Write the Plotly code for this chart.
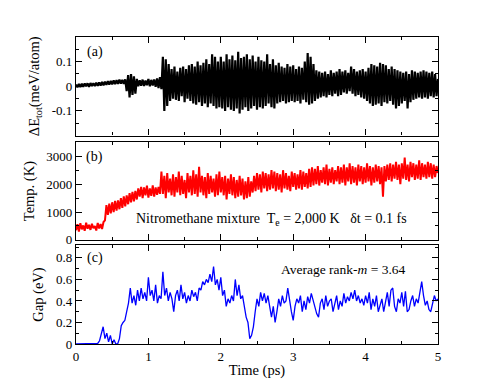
"""Nitromethane mixture MD run: energy drift, temperature and gap vs time."""

import numpy as np
import plotly.graph_objects as go
from plotly.subplots import make_subplots

FONT = "Liberation Serif, DejaVu Serif, serif"

# (a) total energy deviation, meV/atom, sampled every 0.02 ps
energy_dev = [
    0.007, -0.004, 0.009, -0.003, 0.010, -0.002, 0.011, 0.000, 0.012, -0.002,
    0.013, 0.001, 0.012, 0.001, 0.014,
    0.002, 0.016, 0.003, 0.018, 0.004, 0.019, 0.006, 0.021, 0.007, 0.022,
    0.008, 0.024, 0.009, 0.025, 0.010, 0.027, 0.011, 0.026, 0.010, 0.028,
    -0.02, 0.045, -0.045, 0.05, -0.035, 0.04, -0.03, 0.03,
    0.000, 0.024, 0.002, 0.027, 0.001, 0.023, 0.004, 0.030, 0.000, 0.026,
    0.003, 0.028, -0.002, 0.032, -0.007, 0.037, -0.012,
    0.12, -0.1, 0.11, -0.08, 0.09,
    -0.06, 0.07, -0.05, 0.08, -0.055, 0.06, -0.06, 0.075, -0.04, 0.08,
    -0.065, 0.07, -0.05, 0.085, -0.06,
    0.09, -0.07, 0.08, -0.075, 0.1, -0.065, 0.085, -0.08, 0.095, -0.07,
    0.11, -0.085, 0.09, -0.07, 0.13, -0.08, 0.12, -0.09, 0.1, -0.085,
    0.12, -0.09, 0.1, -0.1, 0.13, -0.085, 0.11, -0.095, 0.125, -0.1,
    0.105, -0.09, 0.14, -0.11, 0.115, -0.095, 0.12, -0.085, 0.13, -0.1,
    0.11, -0.09, 0.125, -0.08, 0.1, -0.095, 0.12, -0.085, 0.105, -0.09,
    0.1, -0.08, 0.13, -0.07, 0.09, -0.085, 0.11, -0.09, 0.085, -0.07,
    0.095, -0.065, 0.08, -0.06, 0.075, -0.07, 0.09, -0.065, 0.08, -0.06,
    0.085, -0.065, 0.07, -0.06, 0.08, -0.07, 0.075, -0.055, 0.1, -0.065,
    0.135, -0.075, 0.12, -0.07, 0.09, -0.06, 0.065, -0.05, 0.06, -0.045,
    0.055, -0.04, 0.06, -0.045, 0.05, -0.035, 0.065, -0.04, 0.055, -0.03,
    0.06, -0.04, 0.07, -0.035, 0.06, -0.025, 0.065, -0.03, 0.055, -0.02,
    0.08, -0.03, 0.07, -0.04, 0.06, -0.035, 0.065, -0.045, 0.07, -0.05,
    0.06, -0.06, 0.075, -0.07, 0.09, -0.08, 0.085, -0.075, 0.08, -0.07,
    0.095, -0.08, 0.09, -0.065, 0.085, -0.07, 0.07, -0.06, 0.08, -0.075,
    0.07, -0.09, 0.065, -0.08, 0.06,
    -0.07, 0.055, -0.06, 0.06, -0.09, 0.05, -0.065, 0.065, -0.055, 0.06,
    -0.05, 0.055, -0.045, 0.06, -0.05, 0.065, -0.045, 0.06, -0.05, 0.055,
    -0.04, 0.06, -0.045, 0.05, -0.04, 0.03,
]

# (b) ionic temperature, K, sampled every 0.02 ps
temperature = [
    350, 560, 300, 600, 380, 520, 330, 620, 400, 540,
    360, 580, 420, 500, 340, 610, 410, 570, 390, 640,
    700, 1250, 900,
    1300, 950, 1350, 1000, 1400, 1050, 1420, 1100, 1500, 1150,
    1560, 1200, 1600, 1280, 1680, 1350, 1720, 1380, 1760,
    1450, 1850, 1550, 1900, 1500, 1880, 1600, 1950, 1520, 1850,
    1580, 1960, 1550, 1880, 1620, 1900, 1650,
    2450, 1650, 2300, 1500, 2400, 1700, 2200, 1600, 2350, 1550,
    2250, 1700, 2450, 1600, 2300, 1650, 2150, 1500, 2400, 1700,
    2300, 1600, 2500, 1650, 2350, 1550, 2620, 1700, 2300, 1600,
    2250, 1500, 2400, 1650, 2300, 1700, 2200, 1550, 2350, 1600,
    2450, 1700, 2250, 1600, 2300, 1450, 2200, 1650, 2350, 1600,
    2250, 1500, 2150, 1550, 2300, 1600, 2200, 1450, 2100, 1500,
    2250, 1550, 2100,
    1700, 2300, 1750, 2400, 1800, 2350, 1700, 2450, 1850, 2400,
    1750, 2350, 1800, 2500, 1850,
    2450, 1750, 2400, 1800, 2350, 1700, 2500, 1850, 2400, 1800,
    2300, 1750, 2450, 1900, 2400, 1800, 2350, 1850, 2500, 1800,
    2450, 1900, 2400, 1850, 2550, 1900,
    2600, 1950, 2550, 2000, 2650, 1950, 2500, 2050, 2600, 2000,
    2700, 1950, 2550, 2050, 2600, 2000, 2500, 2100,
    2650, 2000, 2600, 2050, 2700, 1950, 2600, 2100, 2750, 2000,
    2650, 2050, 2600, 1950, 2700, 2100, 2650, 2000, 2600, 2050,
    2750, 2100, 2650, 1950, 2600, 2050, 2700, 2100, 2650, 2000,
    2600, 1550, 2650, 2100, 2700,
    2150, 2750, 2100, 2700, 2200, 2800, 2150, 2700, 2000, 2750,
    2200, 2950, 2150, 2700, 2100, 2800, 2250, 2750, 2150, 2700,
    2200, 2850, 2150, 2750, 2250, 2700, 2200, 2800, 2250, 2750,
    2200, 2700, 2250, 2650, 2400,
]

# (c) electronic gap, eV, sampled every 0.025 ps
gap_ev = [
    0.00, 0.00, 0.005, 0.005, 0.005, 0.005, 0.005, 0.005, 0.004, 0.003,
    0.003, 0.003, 0.005, 0.03, 0.09, 0.16, 0.05, 0.10, 0.02, 0.08,
    0.0, 0.04, 0.0, 0.0, 0.05, 0.17, 0.20, 0.22, 0.30, 0.38,
    0.52, 0.38, 0.45, 0.36, 0.50, 0.40, 0.52, 0.42, 0.48, 0.40,
    0.62, 0.45, 0.50, 0.40, 0.55, 0.38, 0.45, 0.42, 0.67, 0.45,
    0.52, 0.40, 0.48, 0.42, 0.30, 0.45, 0.50, 0.40, 0.55, 0.42,
    0.48, 0.38, 0.45, 0.40, 0.50, 0.44, 0.48, 0.40, 0.52, 0.50,
    0.58, 0.55, 0.60, 0.57, 0.65, 0.58, 0.72, 0.55, 0.60, 0.50,
    0.62, 0.45, 0.50, 0.35, 0.42, 0.38, 0.45, 0.40, 0.60, 0.45,
    0.55, 0.42, 0.45, 0.35, 0.25, 0.20, 0.05, 0.08, 0.16, 0.30,
    0.42, 0.35, 0.48, 0.40, 0.47, 0.38, 0.45, 0.35, 0.25, 0.35,
    0.20, 0.30, 0.42, 0.35, 0.45, 0.38, 0.40, 0.52, 0.40, 0.30,
    0.22, 0.35, 0.42, 0.38, 0.45, 0.30, 0.40, 0.32, 0.44, 0.38,
    0.47, 0.40, 0.35, 0.28, 0.25, 0.38, 0.42, 0.32, 0.45, 0.35,
    0.40, 0.42, 0.30, 0.38, 0.45, 0.32, 0.40, 0.35, 0.47, 0.38,
    0.44, 0.40, 0.48, 0.42, 0.50, 0.40, 0.45, 0.38, 0.42, 0.36,
    0.45, 0.38, 0.48, 0.32, 0.42, 0.35, 0.45, 0.30, 0.35, 0.42,
    0.30, 0.40, 0.48, 0.35, 0.50, 0.52, 0.35, 0.30, 0.42, 0.38,
    0.48, 0.35, 0.49, 0.30, 0.32, 0.40, 0.45, 0.35, 0.42, 0.38,
    0.50, 0.58, 0.45, 0.36, 0.40, 0.32, 0.30, 0.38, 0.45, 0.40,
    0.42,
]

T_END = 5.0  # ps


def time_axis(values):
    """Uniform time grid covering the run for a sampled series."""
    return np.linspace(0.0, T_END, len(values))


def axis_style(dtick, minor_dtick, rng, show_labels=True):
    return dict(
        range=rng,
        showline=True,
        linecolor="black",
        linewidth=1.3,
        mirror="allticks",
        ticks="inside",
        ticklen=6,
        tickwidth=1.1,
        tickcolor="black",
        dtick=dtick,
        tick0=0,
        minor=dict(ticks="inside", ticklen=3, tickwidth=1, dtick=minor_dtick,
                   tickcolor="black", tick0=0),
        showgrid=False,
        zeroline=False,
        automargin=False,
        showticklabels=show_labels,
        tickfont=dict(family=FONT, size=13, color="black"),
        title_font=dict(family=FONT, size=14.5, color="black"),
    )


def panel_note(fig, text, xref, yref, x, y, size=14):
    fig.add_annotation(text=text, xref=xref, yref=yref, x=x, y=y,
                       xanchor="center", yanchor="middle", showarrow=False,
                       font=dict(family=FONT, size=size, color="black"))


fig = make_subplots(rows=3, cols=1, shared_xaxes=True)

fig.add_trace(go.Scatter(x=time_axis(energy_dev), y=energy_dev, mode="lines",
                         line=dict(color="black", width=2.2)), row=1, col=1)
fig.add_trace(go.Scatter(x=time_axis(temperature), y=temperature, mode="lines",
                         line=dict(color="#ff0000", width=2.0)), row=2, col=1)
fig.add_trace(go.Scatter(x=time_axis(gap_ev), y=gap_ev, mode="lines",
                         line=dict(color="#0000ff", width=1.3)), row=3, col=1)

# the page body adds an 8px offset, so margins are shifted to compensate
fig.update_layout(
    width=495,
    height=383,
    margin=dict(l=68, r=65, t=29, b=47),
    plot_bgcolor="white",
    paper_bgcolor="white",
    showlegend=False,
    font=dict(family=FONT, size=14, color="black"),
    xaxis=axis_style(1, 0.5, [0, 5], show_labels=False),
    xaxis2=axis_style(1, 0.5, [0, 5], show_labels=False),
    xaxis3=axis_style(1, 0.5, [0, 5]),
    yaxis=axis_style(0.1, 0.05, [-0.2, 0.2]),
    yaxis2=axis_style(1000, 500, [0, 3500]),
    yaxis3=axis_style(0.2, 0.1, [0, 0.92]),
)
fig.update_layout(
    yaxis=dict(domain=[0.679, 1.0], title_text="ΔE<sub>tot</sub>(meV/atom)",
               title_standoff=8,
               tickvals=[-0.1, 0, 0.1], ticktext=["-0.1", "0", "0.1"]),
    yaxis2=dict(domain=[0.339, 0.657], title_text="Temp. (K)",
                title_standoff=8),
    yaxis3=dict(domain=[0.0, 0.3225], title_text="Gap (eV)",
                title_standoff=8,
                tickvals=[0, 0.2, 0.4, 0.6, 0.8],
                ticktext=["0", "0.2", "0.4", "0.6", "0.8"]),
    xaxis3=dict(title_text="Time (ps)", title_standoff=2),
)

for text, xr, yr, y in [("(a)", "x domain", "y domain", 0.85),
                        ("(b)", "x2 domain", "y2 domain", 0.85),
                        ("(c)", "x3 domain", "y3 domain", 0.87)]:
    panel_note(fig, text, xr, yr, 0.052, y)

panel_note(fig, "Nitromethane mixture  T<sub>e</sub> = 2,000 K   δt = 0.1 fs",
           "x2 domain", "y2 domain", 0.54, 0.21)
panel_note(fig, "Average rank-<i>m</i> = 3.64", "x3 domain", "y3 domain",
           0.74, 0.75, size=13.5)

fig.write_html("out.html")
